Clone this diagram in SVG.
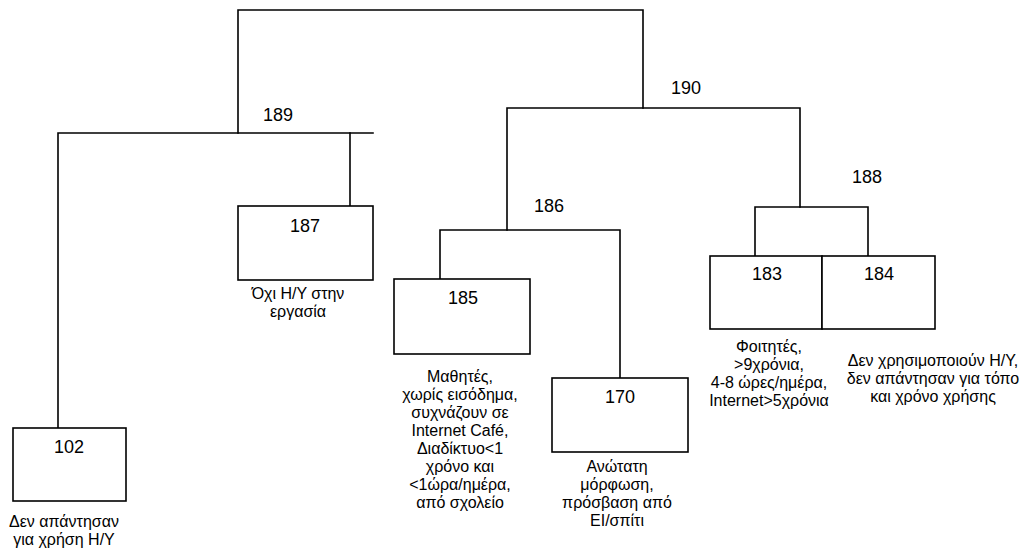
<svg xmlns="http://www.w3.org/2000/svg" width="1020" height="548" viewBox="0 0 1020 548">
<style>
.ln{fill:none;stroke:#000;stroke-width:1.6;stroke-linecap:square}
.box{fill:#fff;stroke:#000;stroke-width:1.6}
.num{font-family:"Liberation Sans",Arial,sans-serif;font-size:18px;fill:#000;text-anchor:middle}
.desc{font-family:"Liberation Sans",Arial,sans-serif;font-size:16px;fill:#000;text-anchor:middle}
</style>
<rect width="1020" height="548" fill="#fff"/>
<g id="connectors">
<path class="ln" d="M238,133 V10 H643 V108"/>
<path class="ln" d="M58,428 V133 H373"/>
<path class="ln" d="M350,133 V206"/>
<path class="ln" d="M507,230 V108 H800 V207"/>
<path class="ln" d="M440,279 V230 H620 V378"/>
<path class="ln" d="M755,256 V207 H868 V256"/>
</g>
<g id="n190"><text class="num" x="686" y="94">190</text></g>
<g id="n189"><text class="num" x="278" y="121">189</text></g>
<g id="n186"><text class="num" x="549" y="212">186</text></g>
<g id="n188"><text class="num" x="867" y="183">188</text></g>
<g id="n187">
<rect class="box" x="238" y="206" width="135" height="74"/>
<text class="num" x="305" y="232">187</text>
<text class="desc" x="298" y="299">Όχι Η/Υ στην</text>
<text class="desc" x="298" y="317">εργασία</text>
</g>
<g id="n185">
<rect class="box" x="394" y="279" width="136" height="75"/>
<text class="num" x="463" y="304">185</text>
<text class="desc" x="460" y="382">Μαθητές,</text>
<text class="desc" x="460" y="400">χωρίς εισόδημα,</text>
<text class="desc" x="460" y="418">συχνάζουν σε</text>
<text class="desc" x="460" y="436">Internet Café,</text>
<text class="desc" x="460" y="454">Διαδίκτυο&lt;1</text>
<text class="desc" x="460" y="472">χρόνο και</text>
<text class="desc" x="460" y="490">&lt;1ώρα/ημέρα,</text>
<text class="desc" x="460" y="508">από σχολείο</text>
</g>
<g id="n170">
<rect class="box" x="552" y="378" width="136" height="74"/>
<text class="num" x="620" y="403">170</text>
<text class="desc" x="617" y="472">Ανώτατη</text>
<text class="desc" x="617" y="490">μόρφωση,</text>
<text class="desc" x="617" y="508">πρόσβαση από</text>
<text class="desc" x="617" y="526">ΕΙ/σπίτι</text>
</g>
<g id="n102">
<rect class="box" x="13" y="428" width="113" height="73"/>
<text class="num" x="69" y="453">102</text>
<text class="desc" x="64" y="527">Δεν απάντησαν</text>
<text class="desc" x="64" y="545">για χρήση Η/Υ</text>
</g>
<g id="n183">
<rect class="box" x="710" y="256" width="112" height="73"/>
<text class="num" x="767" y="280">183</text>
<text class="desc" x="769" y="352">Φοιτητές,</text>
<text class="desc" x="769" y="370">&gt;9χρόνια,</text>
<text class="desc" x="769" y="388">4-8 ώρες/ημέρα,</text>
<text class="desc" x="769" y="406">Internet&gt;5χρόνια</text>
</g>
<g id="n184">
<rect class="box" x="822" y="256" width="113" height="73"/>
<text class="num" x="879" y="280">184</text>
<text class="desc" x="933" y="366">Δεν χρησιμοποιούν Η/Υ,</text>
<text class="desc" x="933" y="384">δεν απάντησαν για τόπο</text>
<text class="desc" x="933" y="402">και χρόνο χρήσης</text>
</g>
</svg>
